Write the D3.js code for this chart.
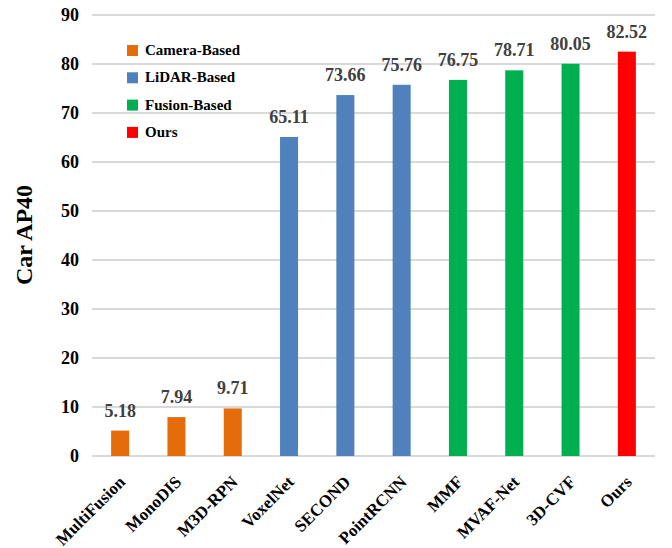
<!DOCTYPE html>
<html>
<head>
<meta charset="utf-8">
<script src="https://cdn.jsdelivr.net/npm/d3@7"></script>
<style>
body { margin: 0; background: #fff; }
text { font-family: "Liberation Serif", "Times New Roman", serif; font-weight: bold; }
</style>
</head>
<body>
<div id="chart"></div>
<script>
var methods = ["MultiFusion", "MonoDIS", "M3D-RPN", "VoxelNet", "SECOND", "PointRCNN", "MMF", "MVAF-Net", "3D-CVF", "Ours"];
var carAP40 = [5.18, 7.94, 9.71, 65.11, 73.66, 75.76, 76.75, 78.71, 80.05, 82.52];
var groups = ["Camera", "Camera", "Camera", "LiDAR", "LiDAR", "LiDAR", "Fusion", "Fusion", "Fusion", "Ours"];
var legendKeys = ["Camera", "LiDAR", "Fusion", "Ours"];
var legendLabels = ["Camera-Based", "LiDAR-Based", "Fusion-Based", "Ours"];
var yTicks = [0, 10, 20, 30, 40, 50, 60, 70, 80, 90];

var svgWidth = 672;
var svgHeight = 548;
var margin = { top: 15, bottom: 92, left: 92, right: 17 };
var width = svgWidth - margin.left - margin.right;
var height = svgHeight - margin.top - margin.bottom;

var color = d3.scaleOrdinal()
    .domain(legendKeys)
    .range(["#E46C0A", "#4F81BD", "#00B050", "#FF0000"]);

var svg = d3.select("#chart")
    .append("svg")
    .attr("width", svgWidth)
    .attr("height", svgHeight);

var chartGroup = svg.append("g")
    .attr("transform", `translate(${margin.left}, ${margin.top})`);

var xBandScale = d3.scaleBand()
    .domain(methods)
    .range([0, width])
    .paddingInner(0.68)
    .paddingOuter(0.34);

var yLinearScale = d3.scaleLinear()
    .domain([0, 90])
    .range([height, 0]);

// gridlines
chartGroup.selectAll(".grid")
    .data(yTicks)
    .enter()
    .append("line")
    .attr("x1", 0)
    .attr("x2", width)
    .attr("y1", d => yLinearScale(d))
    .attr("y2", d => yLinearScale(d))
    .attr("stroke", "#D9D9D9")
    .attr("stroke-width", 2);

var leftAxis = d3.axisLeft(yLinearScale).tickValues(yTicks).tickSize(0).tickPadding(13);
var yAxis = chartGroup.append("g").call(leftAxis);
yAxis.select(".domain").remove();
yAxis.selectAll("text")
    .attr("font-family", "Liberation Serif, serif")
    .attr("font-weight", "bold")
    .attr("font-size", "18px")
    .attr("fill", "#000");

chartGroup.selectAll(".bar")
    .data(methods)
    .enter()
    .append("rect")
    .attr("x", d => xBandScale(d))
    .attr("width", xBandScale.bandwidth())
    .attr("y", (d, i) => yLinearScale(carAP40[i]))
    .attr("height", (d, i) => height - yLinearScale(carAP40[i]))
    .attr("fill", (d, i) => color(groups[i]));

chartGroup.selectAll(".val")
    .data(methods)
    .enter()
    .append("text")
    .attr("x", d => xBandScale(d) + xBandScale.bandwidth() / 2)
    .attr("y", (d, i) => yLinearScale(carAP40[i]) - 14)
    .attr("text-anchor", "middle")
    .attr("font-size", "18px")
    .attr("fill", "#404040")
    .text((d, i) => carAP40[i].toFixed(2));

// rotated category labels
chartGroup.selectAll(".xlab")
    .data(methods)
    .enter()
    .append("text")
    .attr("transform", d => `translate(${xBandScale(d) + xBandScale.bandwidth() / 2 + 6}, ${height + 27}) rotate(-45)`)
    .attr("text-anchor", "end")
    .attr("font-size", "17px")
    .attr("fill", "#000")
    .text(d => d);

svg.append("text")
    .attr("transform", `translate(32, 235) rotate(-90)`)
    .attr("text-anchor", "middle")
    .attr("font-size", "24px")
    .attr("fill", "#000")
    .text("Car AP40");

var legend = svg.append("g").attr("transform", "translate(127, 45)");
var legendRows = legend.selectAll(".lg")
    .data(legendKeys)
    .enter()
    .append("g")
    .attr("transform", (d, i) => `translate(0, ${i * 27.3})`);
legendRows.append("rect")
    .attr("width", 11)
    .attr("height", 11)
    .attr("fill", d => color(d));
legendRows.append("text")
    .attr("x", 18)
    .attr("y", 10)
    .attr("font-size", "15px")
    .attr("fill", "#000")
    .text((d, i) => legendLabels[i]);
</script>
</body>
</html>
